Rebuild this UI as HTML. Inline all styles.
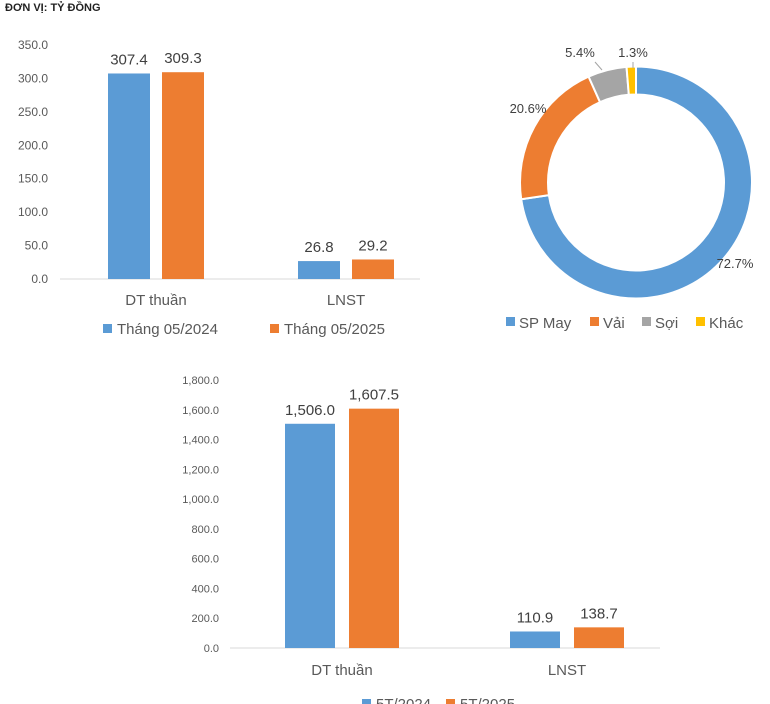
<!DOCTYPE html>
<html><head><meta charset="utf-8"><style>
html,body{margin:0;padding:0;background:#fff;width:770px;height:704px;overflow:hidden}
svg{display:block;font-family:"Liberation Sans","DejaVu Sans",sans-serif}
</style></head><body>
<svg id="c" width="770" height="704" viewBox="0 0 770 704" xmlns="http://www.w3.org/2000/svg">
<text x="5" y="11" font-size="11" font-weight="bold" fill="#222">ĐƠN VỊ: TỶ ĐỒNG</text>
</svg>
<script>
const NS='http://www.w3.org/2000/svg';
const svg=document.getElementById('c');
const BLUE='#5b9bd5',ORANGE='#ed7d31',GRAY='#a5a5a5',YELLOW='#ffc000';

// Chart 1 data
const c1Categories=['DT thuần','LNST'];
const c1Series2024=[307.4,26.8];
const c1Series2025=[309.3,29.2];
const c1Ticks=[0,50,100,150,200,250,300,350];
const c1Legend=['Tháng 05/2024','Tháng 05/2025'];

// Chart 2 data
const c2Categories=['DT thuần','LNST'];
const c2Series2024=[1506.0,110.9];
const c2Series2025=[1607.5,138.7];
const c2Ticks=[0,200,400,600,800,1000,1200,1400,1600,1800];
const c2Legend=['5T/2024','5T/2025'];

// Donut data
const pieLabels=['SP May','Vải','Sợi','Khác'];
const pieValues=[72.7,20.6,5.4,1.3];

function el(tag,attrs,name,text){
  const e=document.createElementNS(NS,tag);
  for(const k in attrs)e.setAttribute(k,attrs[k]);
  
  
  if(text!==undefined)e.textContent=text;
  svg.appendChild(e);return e;
}
function fmt(v,comma){return comma?v.toLocaleString('en-US',{minimumFractionDigits:1,maximumFractionDigits:1}):v.toFixed(1);}

function barChart(o){
  const y=v=>o.y0-(v-0)/o.max*(o.y0-o.yTop);
  o.ticks.forEach(t=>{
    el('text',{x:o.tickX,y:y(t)+4,'font-size':o.tickFs,fill:'#595959','text-anchor':'end'},'y-tick-label',fmt(t,o.comma));
  });
  el('line',{x1:o.axisX1,x2:o.axisX2,y1:o.y0,y2:o.y0,stroke:'#d9d9d9','stroke-width':1},'x-axis-line');
  o.cats.forEach((c,i)=>{
    const cx=o.catX[i];
    const vals=[o.s1[i],o.s2[i]],cols=[BLUE,ORANGE];
    vals.forEach((v,j)=>{
      const x=cx-o.gap/2-o.bw+j*(o.bw+o.gap);
      el('rect',{x:x,y:y(v),width:o.bw,height:o.y0-y(v),fill:cols[j]},'bar-'+(j?'2025':'2024')+'-'+i);
      el('text',{x:x+o.bw/2,y:y(v)-9,'font-size':o.valFs,fill:'#404040','text-anchor':'middle'},'value-label',fmt(v,o.comma));
    });
    el('text',{x:cx,y:o.catY,'font-size':o.catFs,fill:'#595959','text-anchor':'middle'},'category-label',c);
  });
  o.legend.forEach((l,j)=>{
    el('rect',{x:o.legX[j],y:o.legY-10,width:9,height:9,fill:j?ORANGE:BLUE},'legend-swatch');
    el('text',{x:o.legX[j]+14,y:o.legY,'font-size':o.legFs,fill:'#595959'},'legend-entry',l);
  });
}

barChart({cats:c1Categories,s1:c1Series2024,s2:c1Series2025,ticks:c1Ticks,max:350,y0:279,yTop:45,
  tickX:48,tickFs:12,axisX1:60,axisX2:420,catX:[156,346],bw:42,gap:12,valFs:15,catY:305,catFs:15,
  legend:c1Legend,legX:[103,270],legY:334,legFs:15,comma:false});

barChart({cats:c2Categories,s1:c2Series2024,s2:c2Series2025,ticks:c2Ticks,max:1800,y0:648,yTop:380,
  tickX:219,tickFs:11,axisX1:230,axisX2:660,catX:[342,567],bw:50,gap:14,valFs:15,catY:675,catFs:15,
  legend:c2Legend,legX:[362,446],legY:709,legFs:15,comma:true});

// Donut
const cx=636,cy=182.5,R=116,r=88;
const total=pieValues.reduce((a,b)=>a+b,0);
const pieCols=[BLUE,ORANGE,GRAY,YELLOW];
let a0=0;
pieValues.forEach((v,i)=>{
  const a1=a0+v/total*Math.PI*2;
  const p=(rad,a)=>[cx+rad*Math.sin(a),cy-rad*Math.cos(a)];
  const large=(a1-a0)>Math.PI?1:0;
  const [x1,y1]=p(R,a0),[x2,y2]=p(R,a1),[x3,y3]=p(r,a1),[x4,y4]=p(r,a0);
  el('path',{d:`M${x1},${y1}A${R},${R} 0 ${large} 1 ${x2},${y2}L${x3},${y3}A${r},${r} 0 ${large} 0 ${x4},${y4}Z`,fill:pieCols[i],stroke:'#fff','stroke-width':2},'donut-slice-'+pieLabels[i].toLowerCase().replace(/\s+/g,'-'));
  a0=a1;
});
const pctPos=[[735,268],[528,113],[580,57],[633,57]];
pieValues.forEach((v,i)=>{
  el('text',{x:pctPos[i][0],y:pctPos[i][1],'font-size':13,fill:'#404040','text-anchor':'middle'},'donut-percent-label',v.toFixed(1)+'%');
});
el('line',{x1:595,y1:62,x2:602,y2:70,stroke:'#a5a5a5'},'leader-line');
el('line',{x1:633,y1:62,x2:633,y2:68,stroke:'#a5a5a5'},'leader-line');
const pLegX=[506,590,642,696];
pieLabels.forEach((l,i)=>{
  el('rect',{x:pLegX[i],y:317,width:9,height:9,fill:pieCols[i]},'legend-swatch');
  el('text',{x:pLegX[i]+13,y:328,'font-size':15,fill:'#595959'},'legend-entry',l);
});
</script>
</body></html>
